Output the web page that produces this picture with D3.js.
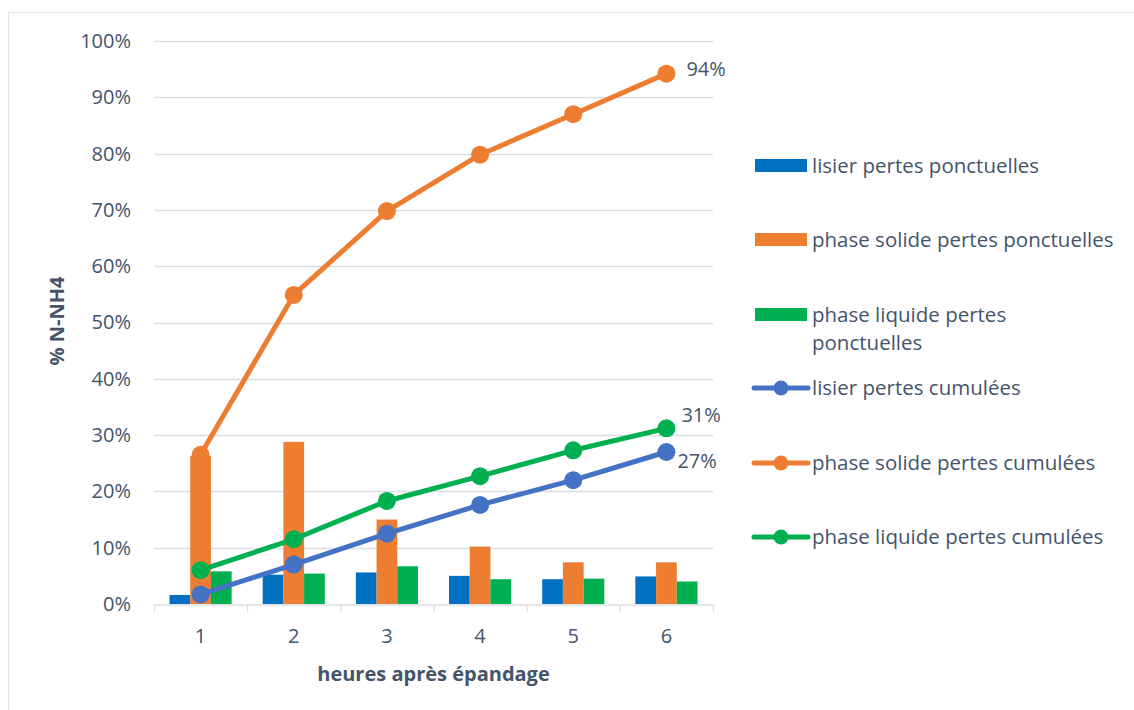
<!DOCTYPE html>
<html>
<head>
<meta charset="utf-8">
<script src="https://cdn.jsdelivr.net/npm/d3@7"></script>
<style>
  html, body { margin: 0; padding: 0; background: #fff; }
  svg { display: block; font-family: "Open Sans", "Noto Sans", sans-serif; }
</style>
</head>
<body>
<svg id="chart" width="1134" height="710"></svg>
<script>
// Hours after spreading
const hours = ["1", "2", "3", "4", "5", "6"];

// Point losses per hour (% of N-NH4)
const lisierPonct = [1.6, 5.2, 5.6, 5.0, 4.4, 4.9];
const solidePonct = [26.3, 28.8, 15.0, 10.2, 7.4, 7.4];
const liquidePonct = [5.8, 5.4, 6.7, 4.4, 4.5, 4.0];

// Cumulated losses (% of N-NH4)
const lisierCumul = [1.7, 7.0, 12.5, 17.6, 22.0, 27.0];
const solideCumul = [26.5, 54.9, 69.8, 79.8, 87.0, 94.2];
const liquideCumul = [6.0, 11.5, 18.3, 22.7, 27.3, 31.2];

const yTicks = [0, 10, 20, 30, 40, 50, 60, 70, 80, 90, 100];

const barSeries = [
  { name: "lisier pertes ponctuelles", values: lisierPonct, color: "#0070C0" },
  { name: "phase solide pertes ponctuelles", values: solidePonct, color: "#ED7D31" },
  { name: "phase liquide pertes ponctuelles", values: liquidePonct, color: "#00B050" }
];
const lineSeries = [
  { name: "lisier pertes cumulées", values: lisierCumul, color: "#4472C4", label: "27%" },
  { name: "phase solide pertes cumulées", values: solideCumul, color: "#ED7D31", label: "94%" },
  { name: "phase liquide pertes cumulées", values: liquideCumul, color: "#00B050", label: "31%" }
];

const textColor = "#44546A";
const gridColor = "#D9DEE5";

const svg = d3.select("#chart");

// outer frame
svg.append("rect")
  .attr("x", 8.5).attr("y", 12.5)
  .attr("width", 1200).attr("height", 800)
  .attr("fill", "none").attr("stroke", "#DDE2E8").attr("stroke-width", 1);

const plot = { left: 154, right: 713, top: 41, bottom: 604 };

const x = d3.scaleBand().domain(hours).range([plot.left, plot.right]).paddingInner(0).paddingOuter(0);
const y = d3.scaleLinear().domain([0, 100]).range([plot.bottom, plot.top]);
const inner = d3.scaleBand().domain(barSeries.map(s => s.name))
  .range([0, x.bandwidth()]).paddingOuter(0.75).paddingInner(0);

// gridlines
svg.append("g")
  .selectAll("line")
  .data(yTicks.filter(t => t > 0))
  .join("line")
  .attr("x1", plot.left).attr("x2", plot.right)
  .attr("y1", d => Math.round(y(d)) + 0.5).attr("y2", d => Math.round(y(d)) + 0.5)
  .attr("stroke", gridColor).attr("stroke-width", 1.3);

// y axis labels
const yAxis = d3.axisLeft(y).tickValues(yTicks).tickFormat(d => d + "%").tickSize(0).tickPadding(0);
const gy = svg.append("g").attr("transform", `translate(${plot.left - 23},0)`).call(yAxis);
gy.select(".domain").remove();
gy.selectAll("text").attr("fill", textColor).attr("font-size", 20).attr("font-family", "Open Sans");

// bars
barSeries.forEach(s => {
  svg.append("g").selectAll("rect")
    .data(s.values.map((v, i) => ({ v, h: hours[i] })))
    .join("rect")
    .attr("x", d => x(d.h) + inner(s.name))
    .attr("width", inner.bandwidth())
    .attr("y", d => y(d.v))
    .attr("height", d => y(0) - y(d.v))
    .attr("fill", s.color);
});

// x axis
const xAxis = d3.axisBottom(x).tickSize(0).tickPadding(24);
const gx = svg.append("g").attr("transform", `translate(0,${plot.bottom + 0.5})`).call(xAxis);
gx.select(".domain").attr("stroke", gridColor).attr("stroke-width", 1.3);
gx.selectAll("text").attr("fill", textColor).attr("font-size", 20).attr("font-family", "Open Sans");
// category separators
gx.append("g").selectAll("line")
  .data(hours.map(h => x(h)).concat([plot.right]))
  .join("line")
  .attr("x1", d => d + 0.5).attr("x2", d => d + 0.5)
  .attr("y1", 0).attr("y2", 7)
  .attr("stroke", gridColor).attr("stroke-width", 1.3);

// lines
const lineGen = d3.line().x((d, i) => x(hours[i]) + x.bandwidth() / 2).y(d => y(d));
lineSeries.forEach(s => {
  const g = svg.append("g");
  g.append("path").datum(s.values)
    .attr("d", lineGen)
    .attr("fill", "none").attr("stroke", s.color).attr("stroke-width", 5)
    .attr("stroke-linejoin", "round").attr("stroke-linecap", "round");
  g.selectAll("circle").data(s.values).join("circle")
    .attr("cx", (d, i) => x(hours[i]) + x.bandwidth() / 2)
    .attr("cy", d => y(d))
    .attr("r", 9)
    .attr("fill", s.color);
});

// end-point value labels
const labelOffsets = { "94%": [20, -5], "31%": [15, -13], "27%": [11, 9] };
lineSeries.forEach(s => {
  const last = s.values.length - 1;
  const off = labelOffsets[s.label];
  svg.append("text")
    .attr("x", x(hours[last]) + x.bandwidth() / 2 + off[0])
    .attr("y", y(s.values[last]) + off[1])
    .attr("dy", "0.35em")
    .attr("fill", textColor).attr("font-size", 20)
    .text(s.label);
});

// axis titles
svg.append("text")
  .attr("x", (plot.left + plot.right) / 2).attr("y", 674)
  .attr("dy", "0.35em")
  .attr("text-anchor", "middle").attr("font-weight", "bold").attr("font-size", 20)
  .attr("fill", textColor)
  .text("heures après épandage");
svg.append("text")
  .attr("transform", "translate(57,321) rotate(-90)")
  .attr("dy", "0.35em")
  .attr("text-anchor", "middle").attr("font-weight", "bold").attr("font-size", 20)
  .attr("fill", textColor)
  .text("% N-NH4");

// legend
const legendItems = [
  { s: barSeries[0], type: "bar", y: 166, lines: ["lisier pertes ponctuelles"] },
  { s: barSeries[1], type: "bar", y: 240, lines: ["phase solide pertes ponctuelles"] },
  { s: barSeries[2], type: "bar", y: 315, lines: ["phase liquide pertes", "ponctuelles"] },
  { s: lineSeries[0], type: "line", y: 388, lines: ["lisier pertes cumulées"] },
  { s: lineSeries[1], type: "line", y: 463, lines: ["phase solide pertes cumulées"] },
  { s: lineSeries[2], type: "line", y: 537, lines: ["phase liquide pertes cumulées"] }
];
const lg = svg.append("g");
legendItems.forEach(it => {
  const g = lg.append("g").attr("transform", `translate(0,${it.y})`);
  if (it.type === "bar") {
    g.append("rect").attr("x", 755).attr("y", -7).attr("width", 52).attr("height", 13).attr("fill", it.s.color);
  } else {
    g.append("line").attr("x1", 754).attr("x2", 808).attr("y1", 0).attr("y2", 0)
      .attr("stroke", it.s.color).attr("stroke-width", 5).attr("stroke-linecap", "round");
    g.append("circle").attr("cx", 781).attr("cy", 0).attr("r", 7.5).attr("fill", it.s.color);
  }
  it.lines.forEach((t, k) => {
    g.append("text").attr("x", 812).attr("y", k * 28).attr("dy", "0.35em")
      .attr("fill", textColor).attr("font-size", 20.5).text(t);
  });
});
</script>
</body>
</html>
